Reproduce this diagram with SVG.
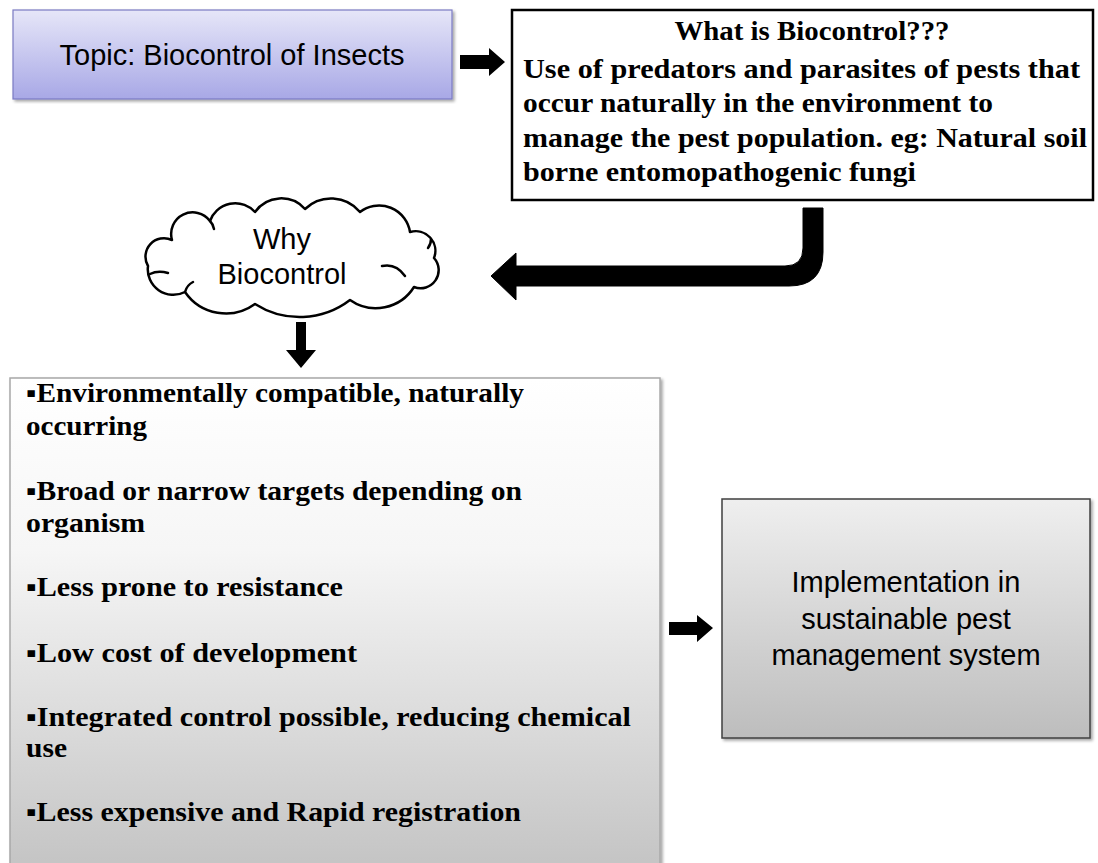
<svg xmlns="http://www.w3.org/2000/svg" width="1098" height="863" viewBox="0 0 1098 863">
  <style>
    .sans { font-family: "Liberation Sans", Arial, sans-serif; font-size: 29px; fill: #000; }
    .serif { font-family: "Liberation Serif", "Times New Roman", serif; font-size: 27px; font-weight: bold; fill: #000; }
    .arrow { fill: #000; }
    .cloudline { fill: none; stroke: #000; stroke-width: 2.5; stroke-linecap: round; }
  </style>
  <defs>
    <linearGradient id="gTopic" x1="0" y1="0" x2="0" y2="1">
      <stop offset="0" stop-color="#e6e6f8"/>
      <stop offset="1" stop-color="#a8a8e6"/>
    </linearGradient>
    <linearGradient id="gList" x1="0" y1="0" x2="0" y2="1">
      <stop offset="0" stop-color="#ffffff"/>
      <stop offset="0.35" stop-color="#f6f6f6"/>
      <stop offset="1" stop-color="#c4c4c4"/>
    </linearGradient>
    <linearGradient id="gImpl" x1="0" y1="0" x2="0" y2="1">
      <stop offset="0" stop-color="#efefef"/>
      <stop offset="1" stop-color="#bdbdbd"/>
    </linearGradient>
    <filter id="shadow" x="-5%" y="-5%" width="110%" height="110%">
      <feDropShadow dx="2" dy="2" stdDeviation="1.5" flood-color="#000" flood-opacity="0.35"/>
    </filter>
  </defs>

  <g id="topic">
    <rect x="13" y="10" width="439" height="89" fill="url(#gTopic)" stroke="#7b7bc4" stroke-width="1.2" filter="url(#shadow)"/>
    <text class="sans" x="232" y="65" text-anchor="middle">Topic: Biocontrol of Insects</text>
  </g>

  <g id="what">
    <rect x="512" y="10" width="581" height="190" fill="#fff" stroke="#000" stroke-width="2.5"/>
    <text class="serif" x="812" y="40" text-anchor="middle" textLength="275" lengthAdjust="spacingAndGlyphs">What is Biocontrol???</text>
    <text class="serif" x="523" y="78" textLength="557" lengthAdjust="spacingAndGlyphs">Use of predators and parasites of pests that</text>
    <text class="serif" x="523" y="112" textLength="470" lengthAdjust="spacingAndGlyphs">occur naturally in the environment to</text>
    <text class="serif" x="523" y="147" textLength="564" lengthAdjust="spacingAndGlyphs">manage the pest population. eg: Natural soil</text>
    <text class="serif" x="523" y="181" textLength="393" lengthAdjust="spacingAndGlyphs">borne entomopathogenic fungi</text>
  </g>

  <g id="why">
    <path d="M 148 266 A 18.5 18.5 0 0 1 172 240 A 21.6 21.6 0 0 1 210 221 A 26.8 26.8 0 0 1 255 212 A 32 32 0 0 1 305 209 A 37.6 37.6 0 0 1 360 212 A 31.3 31.3 0 0 1 410 232 A 19.7 19.7 0 0 1 434 258 A 18.1 18.1 0 0 1 414 287 A 45 45 0 0 1 350 300 A 83 83 0 0 1 255 304 A 49.5 49.5 0 0 1 185 292 A 25.5 25.5 0 0 1 148 266 Z" fill="#fff" stroke="#000" stroke-width="2.5" stroke-linejoin="round"/>
    <path class="cloudline" d="M 150 274 Q 158 270 168 273"/>
    <path class="cloudline" d="M 382 266 Q 396 263 405 276"/>
    <path class="cloudline" d="M 428 248 Q 431 244 431 239"/>
    <path class="cloudline" d="M 210 221 Q 213 224 214 229"/>
    <path class="cloudline" d="M 185 292 Q 187 285 193 282"/>
    <text class="sans" x="282" y="249" text-anchor="middle">Why</text>
    <text class="sans" x="282" y="284" text-anchor="middle">Biocontrol</text>
  </g>

  <g id="reasons">
    <rect x="10" y="378" width="650" height="490" fill="url(#gList)" stroke="#a8a8a8" stroke-width="1.5" filter="url(#shadow)"/>
    <text class="serif" x="26" y="402" textLength="498" lengthAdjust="spacingAndGlyphs">▪Environmentally compatible, naturally</text>
    <text class="serif" x="26" y="435" textLength="121" lengthAdjust="spacingAndGlyphs">occurring</text>
    <text class="serif" x="26" y="500" textLength="496" lengthAdjust="spacingAndGlyphs">▪Broad or narrow targets depending on</text>
    <text class="serif" x="26" y="532" textLength="119" lengthAdjust="spacingAndGlyphs">organism</text>
    <text class="serif" x="26" y="596" textLength="317" lengthAdjust="spacingAndGlyphs">▪Less prone to resistance</text>
    <text class="serif" x="26" y="662" textLength="331" lengthAdjust="spacingAndGlyphs">▪Low cost of development</text>
    <text class="serif" x="26" y="726" textLength="605" lengthAdjust="spacingAndGlyphs">▪Integrated control possible, reducing chemical</text>
    <text class="serif" x="26" y="757" textLength="41" lengthAdjust="spacingAndGlyphs">use</text>
    <text class="serif" x="26" y="821" textLength="495" lengthAdjust="spacingAndGlyphs">▪Less expensive and Rapid registration</text>
  </g>

  <g id="implementation">
    <rect x="722" y="499" width="368" height="239" fill="url(#gImpl)" stroke="#404040" stroke-width="1.5" filter="url(#shadow)"/>
    <text class="sans" x="906" y="592" text-anchor="middle">Implementation in</text>
    <text class="sans" x="906" y="629" text-anchor="middle">sustainable pest</text>
    <text class="sans" x="906" y="665" text-anchor="middle">management system</text>
  </g>

  <g id="connectors">
    <polygon class="arrow" points="460,55 489,55 489,48 505,62 489,76 489,69 460,69"/>
    <path class="arrow" stroke="#000" stroke-width="1" stroke-linejoin="round" d="M 803 208 L 823 208 L 823 252 Q 823 286 789 286 L 516 286 L 516 300 L 491 276 L 516 253 L 516 266 L 785 266 Q 803 266 803 248 Z"/>
    <polygon class="arrow" points="296,322 306,322 306,350 316,350 301,368 286,350 296,350"/>
    <polygon class="arrow" points="669,622 697,622 697,615 713,628 697,642 697,635 669,635"/>
  </g>
</svg>
